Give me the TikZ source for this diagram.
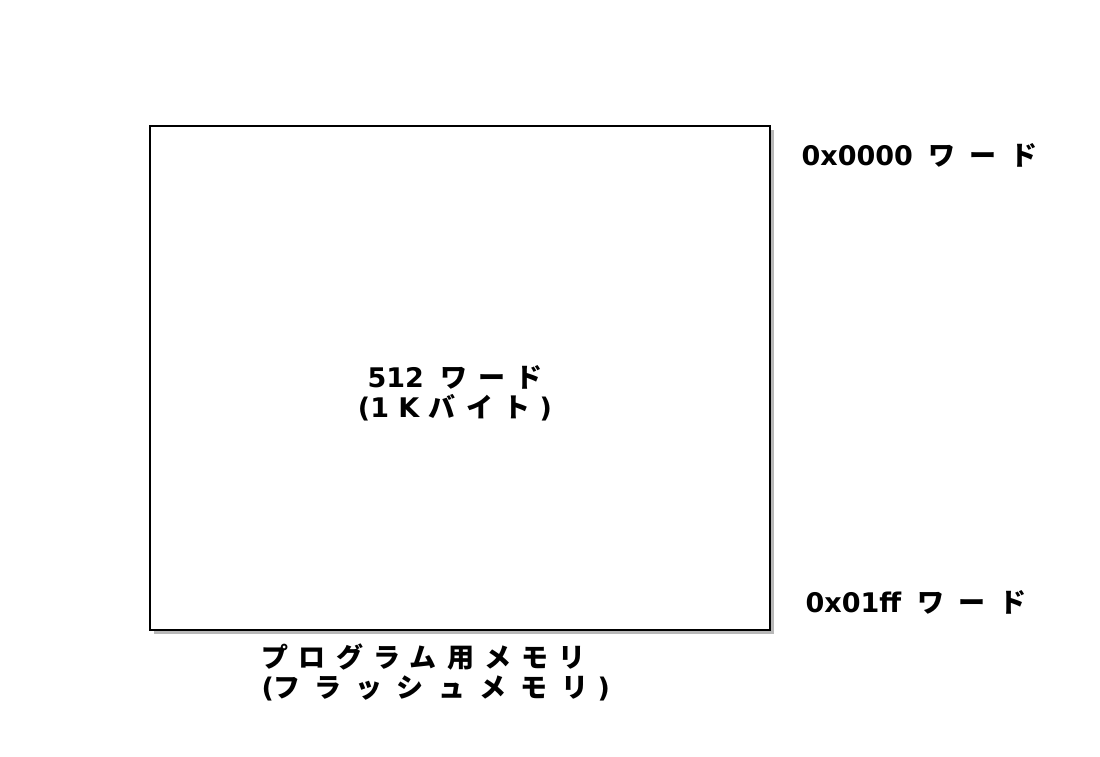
\documentclass[tikz,border=0pt]{standalone}
\usepackage{fontspec}
\setmainfont{DejaVu Sans}
\newfontfamily\jpfont[LetterSpace=38]{Noto Sans CJK JP}
\newfontfamily\jpwide[LetterSpace=52]{Noto Sans CJK JP}
\usetikzlibrary{positioning,shadows}
\tikzset{
  memblock/.style={draw, line width=1.6pt, fill=white,
    drop shadow={shadow xshift=3.5pt, shadow yshift=-3.5pt, opacity=0.5, fill=black!55}},
  memtext/.style={font=\bfseries\fontsize{27}{30}\selectfont},
}
\begin{document}
\begin{tikzpicture}[x=1pt, y=-1pt]
            \useasboundingbox [fill=white] (0,0) rectangle (1100,756);
            \node [memblock, minimum width=620pt, minimum height=504pt] (flash) at (460,378) {};
            \node [memtext, align=center] (size) at (455,393) {512\hspace{17pt}{\jpfont ワード}\\(1 K {\jpfont バイト} )};
            \node [memtext, anchor=west] (top) at (798,155) {0x0000\hspace{16pt}{\jpwide ワード}};
            \node [memtext, anchor=west] (bottom) at (802,602) {0x01ff\hspace{16pt}{\jpwide ワード}};
            \node [memtext, align=left, anchor=north west] (name) at (258,640) {{\jpfont プログラム用メモリ}\\({\jpwide フラッシュメモリ} )};
        \end{tikzpicture}
\end{document}
